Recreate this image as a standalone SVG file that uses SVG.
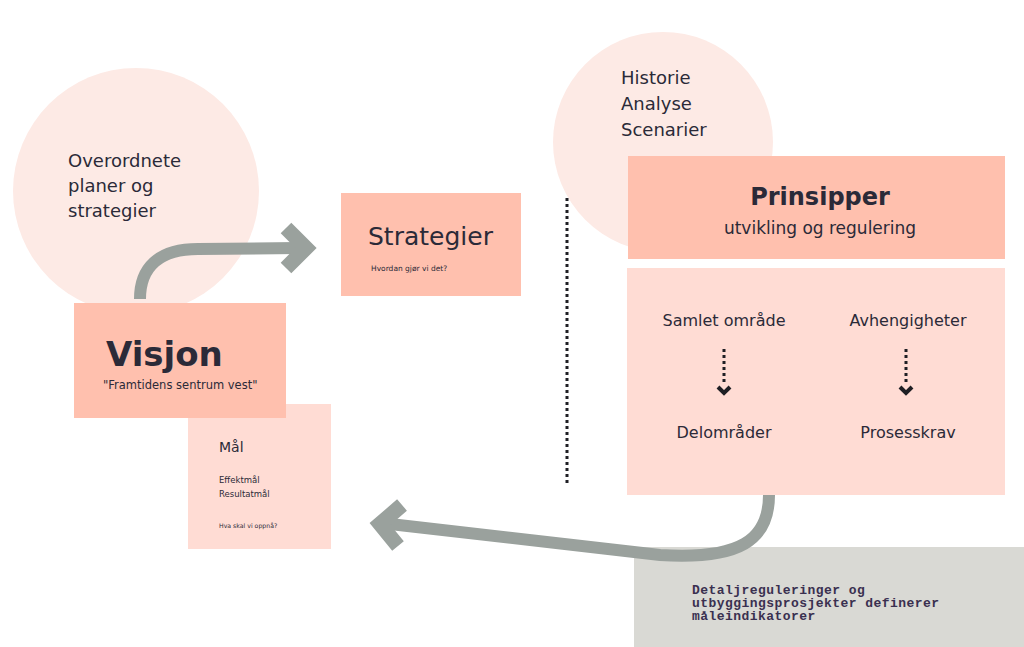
<svg xmlns="http://www.w3.org/2000/svg" width="1024" height="647" viewBox="0 0 1024 647">
<style>
.t{font-family:"DejaVu Sans","Liberation Sans",Arial,sans-serif;fill:#2b2a38}
.b{font-weight:bold}
.m{font-family:"Liberation Mono","Courier New",monospace;fill:#3a3050;font-weight:bold;letter-spacing:0.45px}
.salmon{fill:#ffc0ae}
.pink{fill:#ffdcd4}
.circ{fill:#fdeae5}
.arrow{fill:none;stroke:#9aa19d;stroke-width:12}
.head{fill:none;stroke:#9aa19d;stroke-width:15}
.dots{fill:none;stroke:#1f1f24;stroke-width:3;stroke-dasharray:3 3}
.dhead{fill:none;stroke:#1f1f24;stroke-width:4;stroke-linejoin:miter}
</style>
<rect width="1024" height="647" fill="#ffffff"/>
<g id="overordnete">
<circle class="circ" cx="136" cy="191" r="123"/>
<text class="t" font-size="18" x="68" y="167">Overordnete</text>
<text class="t" font-size="18" x="68" y="192">planer og</text>
<text class="t" font-size="18" x="68" y="217">strategier</text>
</g>
<g id="historie">
<circle class="circ" cx="663" cy="142" r="110"/>
<text class="t" font-size="18" x="621" y="84">Historie</text>
<text class="t" font-size="18" x="621" y="110">Analyse</text>
<text class="t" font-size="18" x="621" y="136">Scenarier</text>
</g>
<g id="strategier">
<rect class="salmon" x="341" y="193" width="180" height="103"/>
<text class="t" font-size="25" x="368" y="245">Strategier</text>
<text class="t" font-size="7.5" x="371" y="271">Hvordan gjør vi det?</text>
</g>
<g id="maal">
<rect class="pink" x="188" y="404" width="143" height="145"/>
<text class="t" font-size="14" x="219" y="452">Mål</text>
<text class="t" font-size="8.5" x="219" y="483">Effektmål</text>
<text class="t" font-size="8.5" x="219" y="497">Resultatmål</text>
<text class="t" font-size="6.2" x="219" y="528">Hva skal vi oppnå?</text>
</g>
<g id="visjon">
<rect class="salmon" x="74" y="303" width="212" height="115"/>
<text class="t b" font-size="34" x="106" y="366">Visjon</text>
<text class="t" font-size="11.5" x="103" y="389">"Framtidens sentrum vest"</text>
</g>
<g id="prinsipper">
<rect class="salmon" x="628" y="156" width="377" height="103"/>
<text class="t b" font-size="24" x="820" y="205" text-anchor="middle">Prinsipper</text>
<text class="t" font-size="17" x="820" y="234" text-anchor="middle">utvikling og regulering</text>
</g>
<g id="omraader">
<rect class="pink" x="627" y="268" width="378" height="227"/>
<text class="t" font-size="16" x="724" y="326" text-anchor="middle">Samlet område</text>
<text class="t" font-size="16" x="908" y="326" text-anchor="middle">Avhengigheter</text>
<text class="t" font-size="16" x="724" y="438" text-anchor="middle">Delområder</text>
<text class="t" font-size="16" x="908" y="438" text-anchor="middle">Prosesskrav</text>
</g>
<g id="detalj">
<rect x="634" y="547" width="390" height="100" fill="#d9d9d4"/>
<text class="m" font-size="13" x="692" y="594">Detaljreguleringer og</text>
<text class="m" font-size="13" x="692" y="607">utbyggingsprosjekter definerer</text>
<text class="m" font-size="13" x="692" y="620">måleindikatorer</text>
</g>
<g id="connectors">
<path class="arrow" d="M140 299 C140 268 158 249 198 249 L298 248"/>
<polyline class="head" points="286,228 306,248 286,268"/>
<path class="arrow" d="M769 495 C769 540 740 560 660 555 L390 524"/>
<polyline class="head" points="402,505 380,524 398,546"/>
<line class="dots" x1="567" y1="198" x2="567" y2="486" stroke-width="2.5" stroke-dasharray="2.5 2.5"/>
<line class="dots" x1="724" y1="349" x2="724" y2="384"/>
<polyline class="dhead" points="718,387 724,393 730,387"/>
<line class="dots" x1="906" y1="349" x2="906" y2="384"/>
<polyline class="dhead" points="900,387 906,393 912,387"/>
</g>
</svg>
